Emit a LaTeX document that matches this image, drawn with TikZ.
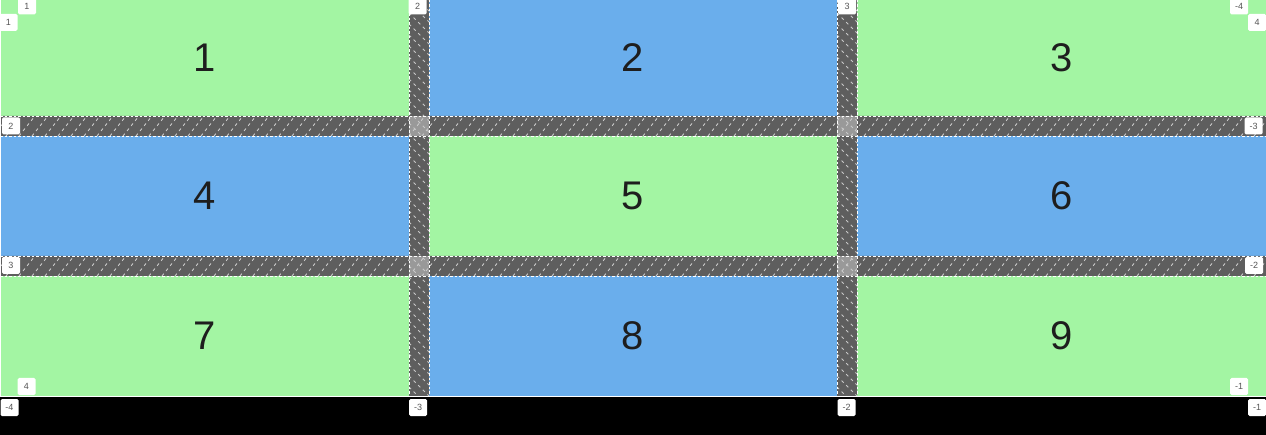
\documentclass[tikz,border=0pt]{standalone}
\usepackage{fontspec}
\setmainfont{Liberation Sans}
\definecolor{cellgreen}{HTML}{A3F5A3}
\definecolor{cellblue}{HTML}{6AAEEC}
\definecolor{gapgray}{HTML}{5E5E5E}
\definecolor{crossgray}{HTML}{999999}
\definecolor{numtext}{HTML}{1E1E1E}
\definecolor{tagtext}{HTML}{555555}
\definecolor{hatchgray}{HTML}{C8C8C8}
\begin{document}
\begin{tikzpicture}[x=1pt, y=-1pt,
	cell/.style={rectangle, inner sep=0pt, outer sep=0pt, text=numtext, font=\fontsize{40}{40}\selectfont},
	tag/.style={rectangle, fill=white, rounded corners=1.5pt, inner sep=0pt, minimum width=18pt, minimum height=17pt, text=tagtext, font=\fontsize{9}{9}\selectfont},
	hatch/.style={hatchgray, line width=0.9pt, dash pattern=on 3pt off 3.5pt},
	gridline/.style={white, line width=0.9pt, dash pattern=on 2.5pt off 2pt}]
\useasboundingbox (0,0) rectangle (1266,435);
\fill[black] (0,397) rectangle (1266,435);

\foreach \n/\x/\y/\w/\h/\c in {
	1/204.5/58/409/116/cellgreen,2/633/58/408/116/cellblue,3/1061.5/58/409/116/cellgreen%
	,4/204.5/196/409/120/cellblue,5/633/196/408/120/cellgreen,6/1061.5/196/409/120/cellblue%
	,7/204.5/336/409/120/cellgreen,8/633/336/408/120/cellblue,9/1061.5/336/409/120/cellgreen%
}{
	\node[cell, fill=\c, minimum width=\w pt, minimum height=\h pt](cell\n) at(\x,\y) {\n};
}

% gaps
\fill[gapgray] (409,0) rectangle (429,396) (837,0) rectangle (857,396);
\fill[gapgray] (0,116) rectangle (1266,136) (0,256) rectangle (1266,276);
\foreach \x in {409,837}{
	\foreach \y in {116,256}{
		\fill[crossgray] (\x,\y) rectangle ++(20,20);
	}
}
\begin{scope}
	\clip (0,116) rectangle (1266,136) (0,256) rectangle (1266,276);
	\foreach \i in {-20,-7,...,1270}{
		\draw[hatch] (\i,136) -- ++(16,-20);
		\draw[hatch] (\i,276) -- ++(16,-20);
	}
\end{scope}
\begin{scope}
	\clip (409,0) rectangle (429,396) (837,0) rectangle (857,396);
	\foreach \j in {-20,-9,...,400}{
		\draw[hatch] (409,\j) -- ++(20,20);
		\draw[hatch] (837,\j) -- ++(20,20);
	}
\end{scope}

% grid lines
\foreach \x in {409,429,837,857}{
	\draw[gridline] (\x,0) -- (\x,396);
}
\foreach \y in {116,136,256,276}{
	\draw[gridline] (0,\y) -- (1266,\y);
}
\draw[white, line width=1pt] (0,396.5) -- (1266,396.5);
\draw[white, line width=0.8pt] (0.4,0) -- (0.4,396);

% line numbers
\foreach \n/\x/\y/\t in {
	top1/27/6/1,top2/417.5/6/2,top3/847/6/3,top4/1239/6/-4%
	,lft1/8.5/22.5/1,lft2/11/126/2,lft3/11/265.5/3,lft4/26.5/386.5/4%
	,rgt1/1257/22.5/4,rgt2/1253.5/126/-3,rgt3/1254/265.5/-2,rgt4/1239/386.5/-1%
	,bot1/9.5/407.5/-4,bot2/418/407.5/-3,bot3/846.5/407.5/-2,bot4/1257/407.5/-1%
}{
	\node[tag](\n) at(\x,\y) {\t};
}
\end{tikzpicture}
\end{document}
